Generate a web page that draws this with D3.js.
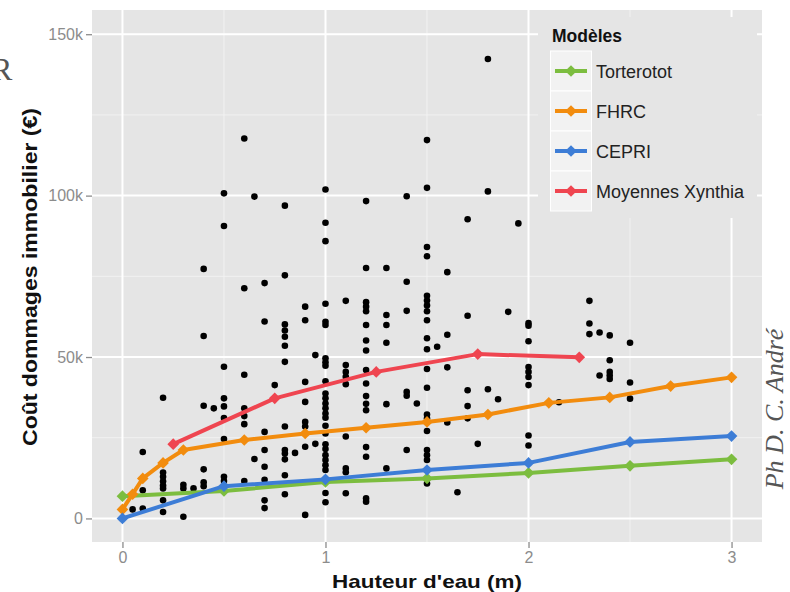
<!DOCTYPE html>
<html>
<head>
<meta charset="utf-8">
<style>
  body { margin: 0; background: #fff; }
  svg { display: block; font-family: "Liberation Sans", Arial, sans-serif; }
</style>
</head>
<body>
<div id="chart"></div>
<script src="https://cdnjs.cloudflare.com/ajax/libs/d3/7.8.5/d3.min.js"></script>
<script>
'use strict';

// observed damage costs (k€) grouped by water height (m)
var obsHeight = [0.05, 0.1, 0.2, 0.3, 0.35, 0.4, 0.45, 0.5, 0.6, 0.65, 0.7, 0.75, 0.8, 0.85, 0.9, 0.95,
  1.0, 1.1, 1.2, 1.3, 1.4, 1.45, 1.5, 1.55, 1.6, 1.65, 1.7, 1.75, 1.8, 1.85, 1.9, 1.95,
  2.0, 2.15, 2.3, 2.35, 2.4, 2.5];
var obsCost = [
  [2.8],
  [3.1, 8.7, 20.6],
  [37.4, 14.2, 12.9, 11.5, 10.2, 9.3, 5.6, 2.0],
  [10.4, 9.3, 0.5],
  [9.3],
  [77.3, 56.5, 34.9, 15.2, 11.2, 10.0],
  [34.1],
  [100.7, 90.6, 47.0, 37.2, 34.7, 31.1, 24.6, 12.9, 11.6],
  [117.7, 71.3, 44.5, 34.1, 31.7, 29.2, 11.6],
  [99.7, 18.4],
  [72.9, 61.0, 26.8, 21.2, 16.0, 12.0, 5.6, 3.2],
  [41.3],
  [96.9, 75.3, 60.1, 58.2, 56.3, 53.5, 48.5, 28.5, 21.2, 20.1, 18.3, 13.4, 7.5],
  [20.3],
  [65.6, 61.4, 42.3, 36.1, 29.9, 28.5, 22.2, 1.1],
  [50.6, 23.1],
  [101.9, 91.6, 85.9, 66.5, 60.9, 59.9, 49.6, 48.4, 47.3, 42.5, 38.7, 37.2, 35.6, 34.1, 32.5, 31.2,
   28.7, 26.3, 23.0, 21.5, 19.6, 18.1, 16.5, 15.0, 7.9, 5.0],
  [67.4, 47.5, 45.4, 43.9, 41.6, 25.4, 15.5, 14.3, 7.8],
  [98.3, 77.6, 67.0, 65.6, 64.2, 59.9, 55.1, 52.0, 46.0, 41.8, 37.9, 35.5, 33.5, 22.1, 19.1, 6.2, 5.2],
  [77.6, 63.0, 59.9, 54.4, 35.4, 15.5],
  [99.8, 73.3, 64.3, 39.2, 38.0, 21.2],
  [35.6],
  [117.2, 102.4, 84.1, 81.2, 69.0, 67.5, 66.0, 64.2, 61.4, 55.8, 52.4, 46.3, 40.5, 32.2, 31.0, 27.1,
   21.2, 19.6, 18.1, 10.8],
  [53.2],
  [76.3, 56.9, 46.8, 29.7],
  [8.1],
  [92.7, 62.8, 39.7, 34.8, 31.0],
  [23.1],
  [142.3, 101.3, 40.0],
  [36.9],
  [64.0],
  [91.4],
  [60.5, 59.7, 54.9, 46.9, 45.4, 43.8, 41.3, 25.7, 22.6],
  [36.0],
  [67.4, 60.4, 57.1],
  [57.6, 44.3],
  [56.7, 49.0, 45.4, 44.3, 43.2],
  [54.4, 42.1, 37.1]
];

// damage models (k€)
var modelNames = ['Torterotot', 'FHRC', 'CEPRI', 'Moyennes Xynthia'];
var modelColors = ['#7cbd3f', '#f28c0e', '#3d7dd6', '#ef4550'];
var torterototX = [0, 0.5, 1, 1.5, 2, 2.5, 3];
var torterototY = [6.9, 8.5, 11.3, 12.4, 14.1, 16.3, 18.3];
var fhrcX = [0, 0.05, 0.1, 0.2, 0.3, 0.6, 0.9, 1.2, 1.5, 1.8, 2.1, 2.4, 2.7, 3];
var fhrcY = [2.8, 7.5, 12.4, 17.2, 21.2, 24.3, 26.3, 28.1, 29.9, 32.2, 35.8, 37.5, 41.0, 43.7];
var cepriX = [0, 0.5, 1, 1.5, 2, 2.5, 3];
var cepriY = [0, 10.0, 12.1, 15.0, 17.2, 23.7, 25.5];
var xynthiaX = [0.25, 0.75, 1.25, 1.75, 2.25];
var xynthiaY = [23.0, 37.2, 45.4, 50.9, 49.9];

var yTicks = [0, 50000, 100000, 150000];
var xTicks = [0, 1, 2, 3];

var width = 790, height = 592;
var pl = 92, pr = 762, pt = 10, pb = 542;

var svg = d3.select('#chart').append('svg').attr('width', width).attr('height', height);

var x = d3.scaleLinear().domain([-0.15, 3.15]).range([pl, pr]);
var y = d3.scaleLinear().domain([-7300, 157500]).range([pb, pt]);

svg.append('rect').attr('x', pl).attr('y', pt).attr('width', pr - pl).attr('height', pb - pt)
  .attr('fill', '#e5e5e5');

// minor grid
var g = svg.append('g');
g.selectAll('line.mx').data([0.5, 1.5, 2.5]).enter().append('line')
  .attr('x1', d => x(d)).attr('x2', d => x(d)).attr('y1', pt).attr('y2', pb)
  .attr('stroke', '#f2f2f2').attr('stroke-width', 1);
g.selectAll('line.my').data([25000, 75000, 125000]).enter().append('line')
  .attr('y1', d => y(d)).attr('y2', d => y(d)).attr('x1', pl).attr('x2', pr)
  .attr('stroke', '#f2f2f2').attr('stroke-width', 1);
// major grid
g.selectAll('line.gx').data(xTicks).enter().append('line')
  .attr('x1', d => x(d)).attr('x2', d => x(d)).attr('y1', pt).attr('y2', pb)
  .attr('stroke', '#fff').attr('stroke-width', 2);
g.selectAll('line.gy').data(yTicks).enter().append('line')
  .attr('y1', d => y(d)).attr('y2', d => y(d)).attr('x1', pl).attr('x2', pr)
  .attr('stroke', '#fff').attr('stroke-width', 2);

// axes
var fmt = d => d === 0 ? '0' : (d / 1000) + 'k';
var ya = svg.append('g').attr('transform', 'translate(' + pl + ',0)')
  .call(d3.axisLeft(y).tickValues(yTicks).tickFormat(fmt).tickSize(6).tickPadding(3));
var xa = svg.append('g').attr('transform', 'translate(0,' + pb + ')')
  .call(d3.axisBottom(x).tickValues(xTicks).tickFormat(d3.format('d')).tickSize(6).tickPadding(4));
[ya, xa].forEach(function(a) {
  a.select('.domain').remove();
  a.selectAll('line').attr('stroke', '#8c8c8c').attr('stroke-width', 1.3);
  a.selectAll('text').attr('fill', '#8c8c8c').style('font-size', '16px')
    .style('font-family', '"Liberation Sans", Arial, sans-serif');
});

// scatter
var pts = [];
obsHeight.forEach(function(h, i) { obsCost[i].forEach(function(c) { pts.push([h, c * 1000]); }); });
svg.append('g').selectAll('circle').data(pts).enter().append('circle')
  .attr('cx', d => x(d[0])).attr('cy', d => y(d[1])).attr('r', 3.3).attr('fill', '#000');

// model lines
var series = [
  { xs: torterototX, ys: torterototY },
  { xs: fhrcX, ys: fhrcY },
  { xs: cepriX, ys: cepriY },
  { xs: xynthiaX, ys: xynthiaY }
];
var line = d3.line().x(d => x(d[0])).y(d => y(d[1]));
var diamond = d3.symbol().type(d3.symbolSquare).size(68);
series.forEach(function(s, i) {
  var data = s.xs.map((v, j) => [v, s.ys[j] * 1000]);
  var sg = svg.append('g');
  sg.append('path').datum(data).attr('d', line).attr('fill', 'none')
    .attr('stroke', modelColors[i]).attr('stroke-width', 4).attr('stroke-linejoin', 'round');
  sg.selectAll('path.pt').data(data).enter().append('path').attr('class', 'pt')
    .attr('d', diamond)
    .attr('transform', d => 'translate(' + x(d[0]) + ',' + y(d[1]) + ') rotate(45)')
    .attr('fill', modelColors[i]);
});

// legend
var lg = svg.append('g');
lg.append('rect').attr('x', 538).attr('y', 17).attr('width', 219).attr('height', 201).attr('fill', '#e5e5e5');
lg.append('text').attr('x', 552).attr('y', 42).text('Modèles')
  .style('font-weight', 'bold').style('font-size', '17.5px').attr('fill', '#111');
modelNames.forEach(function(name, i) {
  var cy = 71 + i * 40;
  lg.append('rect').attr('x', 550.5).attr('y', cy - 20).attr('width', 41).attr('height', 40)
    .attr('fill', '#f2f2f2').attr('stroke', '#fff').attr('stroke-width', 1);
  lg.append('line').attr('x1', 555).attr('x2', 587).attr('y1', cy).attr('y2', cy)
    .attr('stroke', modelColors[i]).attr('stroke-width', 4);
  lg.append('path').attr('d', diamond).attr('transform', 'translate(571,' + cy + ') rotate(45)')
    .attr('fill', modelColors[i]);
  lg.append('text').attr('x', 596).attr('y', cy + 6.5).text(name)
    .style('font-size', '18px').attr('fill', '#222');
});

// axis titles
svg.append('text').attr('x', 427).attr('y', 588).attr('text-anchor', 'middle')
  .attr('textLength', 190).attr('lengthAdjust', 'spacingAndGlyphs')
  .style('font-weight', 'bold').style('font-size', '19px').attr('fill', '#111')
  .text("Hauteur d'eau (m)");
svg.append('text').attr('transform', 'translate(37,277) rotate(-90)').attr('text-anchor', 'middle')
  .attr('textLength', 338).attr('lengthAdjust', 'spacingAndGlyphs')
  .style('font-weight', 'bold').style('font-size', '20px').attr('fill', '#111')
  .text('Coût dommages immobilier (€)');

// photo credit and cropped letter
svg.append('text').attr('transform', 'translate(783,409) rotate(-90)').attr('text-anchor', 'middle')
  .style('font-family', '"Liberation Serif", "DejaVu Serif", serif').style('font-style', 'italic')
  .style('font-size', '26px').attr('fill', '#555').text('Ph D. C. André');
svg.append('text').attr('x', -9).attr('y', 80)
  .style('font-family', '"Liberation Serif", "DejaVu Serif", serif')
  .style('font-size', '32px').attr('fill', '#555').text('R');
</script>
</body>
</html>
